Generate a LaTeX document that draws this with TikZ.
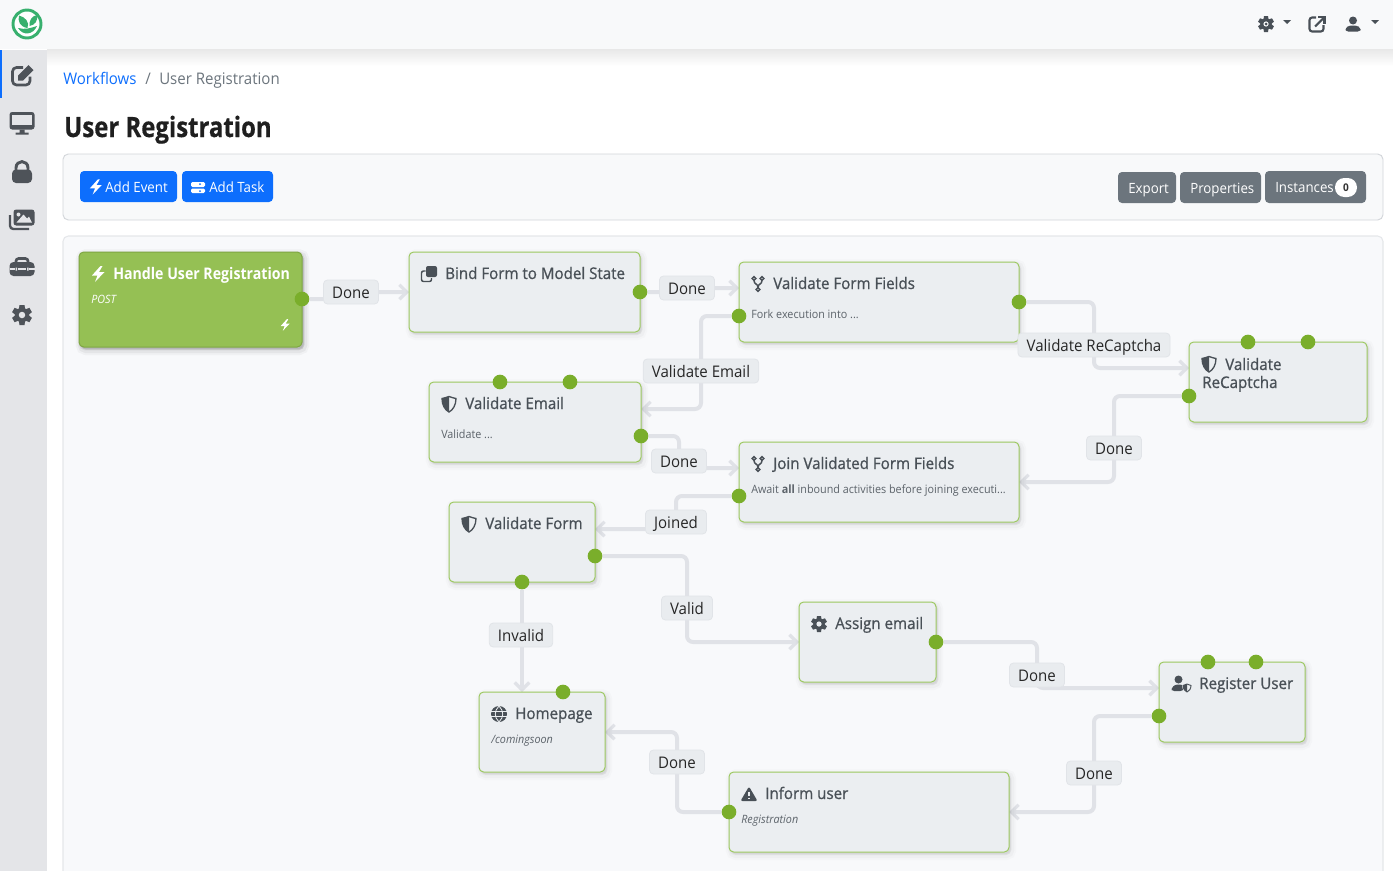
\documentclass[tikz,border=0pt]{standalone}
\usepackage{fontspec}
\setmainfont[FakeStretch=.94]{Open Sans}
\newfontfamily\midfont[FakeStretch=.945,FakeBold=.9]{Open Sans}
\newfontfamily\headfont[FakeStretch=.885]{Open Sans}
\newfontfamily\bigfont[FakeStretch=.855,FakeBold=.5]{Open Sans}
\usetikzlibrary{arrows.meta,backgrounds,fit,shadows}

\definecolor{navbg}{HTML}{F8F9FA}
\definecolor{sidebg}{HTML}{E4E5E8}
\definecolor{cardline}{HTML}{D3D6DA}
\definecolor{sheetbg}{HTML}{F8F9FB}
\definecolor{sheetline}{HTML}{E5E7EA}
\definecolor{boxgray}{HTML}{EBEEF1}
\definecolor{boxline}{HTML}{9CC860}
\definecolor{handlebg}{HTML}{95C054}
\definecolor{handleline}{HTML}{7EA643}
\definecolor{portgreen}{HTML}{7AAE2B}
\definecolor{wiregray}{HTML}{E0E2E7}
\definecolor{labelbg}{HTML}{E9ECEF}
\definecolor{labelline}{HTML}{E1E4E8}
\definecolor{bluebtn}{HTML}{0D6EFD}
\definecolor{graybtn}{HTML}{6C757D}
\definecolor{inkdark}{HTML}{495057}
\definecolor{inksub}{HTML}{5C636A}
\definecolor{inkside}{HTML}{4E5359}
\definecolor{logogreen}{HTML}{38B06E}

\tikzset{
    softshadow/.style={
        general shadow={shadow xshift=1.5pt,shadow yshift=-2pt,fill=black,opacity=.015,draw=black,line width=8pt},
        general shadow={shadow xshift=1.5pt,shadow yshift=-2pt,fill=black,opacity=.025,draw=black,line width=5pt},
        general shadow={shadow xshift=1pt,shadow yshift=-1.5pt,fill=black,opacity=.03,draw=black,line width=2pt}},
    flowbox/.style={draw=boxline,fill=boxgray,line width=.75pt,rounded corners=3.5pt,inner sep=0pt,softshadow},
    handlebox/.style={flowbox,draw=handleline,fill=handlebg},
    port/.style={circle,fill=portgreen,inner sep=0pt,minimum size=11pt},
    wire/.style={draw=wiregray,line width=3pt,rounded corners=4.5pt,-{Straight Barb[length=5.5pt,width=11pt,line width=2.4pt]}},
    edgelabel/.style={draw=labelline,fill=labelbg,line width=.6pt,rounded corners=3pt,inner xsep=6.5pt,inner ysep=0pt,
        minimum height=18pt,text=black!85,font=\fontsize{12}{14}\selectfont,text height=11pt,text depth=1.5pt},
    boxtitle/.style={anchor=base west,inner sep=0pt,text=inkdark,font=\fontsize{12}{14}\midfont},
    boxsub/.style={anchor=base west,inner sep=0pt,text=inksub,font=\fontsize{8.6}{10}\selectfont},
    boxpath/.style={boxsub,font=\fontsize{8.6}{10}\selectfont\itshape},
    btn/.style={inner sep=0pt,rounded corners=3pt},
    btntext/.style={anchor=base west,inner sep=0pt,text=white,font=\fontsize{10.6}{12}\selectfont},
    crumb/.style={anchor=base west,inner sep=0pt,font=\fontsize{12}{14}\selectfont},
    pics/bolticon/.style={code={
        \fill[#1] (2.5,-8)--(-6,1.5)--(-.5,1.5)--(-3,8)--(6.5,-2)--(1,-2)--(4.5,-8)--cycle;}},
    pics/forkicon/.style={code={
        \draw[#1,line width=1.1pt] (-4,-5.5) circle (1.8) (4,-5.5) circle (1.8) (0,5.5) circle (1.8);
        \draw[#1,line width=1.1pt] (-4,-3.7) .. controls (-4,1) and (0,-1) .. (0,3.7);
        \draw[#1,line width=1.1pt] (4,-3.7) .. controls (4,1) and (0,-1) .. (0,3.7);}},
    pics/shieldicon/.style={code={
        \draw[#1,line width=1pt] (0,-7.5) .. controls (2,-6.5) and (5,-6) .. (7,-5.5) .. controls (7,1) and (4,6) .. (0,8)
            .. controls (-4,6) and (-7,1) .. (-7,-5.5) .. controls (-5,-6) and (-2,-6.5) .. cycle;
        \fill[#1] (0,-7.5) -- (0,8) .. controls (-4,6) and (-7,1) .. (-7,-5.5) .. controls (-5,-6) and (-2,-6.5) .. cycle;}},
    pics/copyicon/.style={code={
        \fill[#1,rounded corners=1.5pt] (-3,-8) rectangle (8,3);
        \draw[#1,line width=1.1pt,rounded corners=1.5pt] (-3.5,-3) -- (-7.5,-3) -- (-7.5,7.5) -- (2.5,7.5) -- (2.5,4);}},
    pics/gearicon/.style 2 args={code={
        \fill[#1] (0,0) circle (5.8);
        \foreach \a in {0,60,...,300}
            \fill[#1,rotate=\a] (-2,-8)--(2,-8)--(2.6,-4)--(-2.6,-4)--cycle;
        \fill[#2] (0,0) circle (2.6);}},
    pics/globeicon/.style 2 args={code={
        \fill[#1] (0,0) circle (8);
        \draw[#2,line width=.6pt] (-8,-2.6)--(8,-2.6) (-8,2.6)--(8,2.6);
        \draw[#2,line width=.6pt] (0,-8) .. controls (-5,-3) and (-5,3) .. (0,8) .. controls (5,3) and (5,-3) .. cycle;}},
    pics/warnicon/.style 2 args={code={
        \fill[#1,rounded corners=1.5pt] (0,-7.5)--(8.5,7)--(-8.5,7)--cycle;
        \draw[#2,line width=1.1pt] (0,-2.5)--(0,2) (0,3.6)--(0,5);}},
    pics/usershieldicon/.style 2 args={code={
        \fill[#1] (-2.5,-4.5) circle (4);
        \fill[#1,rounded corners=2pt] (-9.5,7) -- (-9.5,4) -- (-6,.5) -- (1,.5) -- (4,3) -- (2,7) -- cycle;
        \fill[#2] (6,-1) -- (11,1) .. controls (11,5) and (9,8) .. (6,9) .. controls (3,8) and (1,5) .. (1,1) -- cycle;
        \draw[#1,line width=.7pt] (6,0) -- (10,1.5) .. controls (10,5) and (8,7) .. (6,8) .. controls (4,7) and (2,5) .. (2,1.5) -- cycle;
        \fill[#1] (6,0) -- (6,8) .. controls (4,7) and (2,5) .. (2,1.5) -- cycle;}},
    pics/editicon/.style={code={
        \draw[#1,line width=2pt,rounded corners=3pt] (1,-7.5) -- (-9.5,-7.5) -- (-9.5,10) -- (8,10) -- (8,1.5);
        \fill[#1] (-4,5.5)--(-4,.5)--(6.5,-10)--(11.5,-5)--(1,5.5)--cycle;}},
    pics/desktopicon/.style 2 args={code={
        \fill[#1,rounded corners=2pt] (-12.5,-11) rectangle (12.5,6.5);
        \fill[#2] (-10,-8.5) rectangle (10,2);
        \fill[#1] (-2.5,6.5) rectangle (2.5,10) (-6.5,9.5) rectangle (6.5,11.5);}},
    pics/lockicon/.style={code={
        \fill[#1,rounded corners=3pt] (-10,-2.5) rectangle (10,11);
        \draw[#1,line width=2.2pt] (-6,-2) -- (-6,-4) .. controls (-6,-12.5) and (6,-12.5) .. (6,-4) -- (6,-2);}},
    pics/imagesicon/.style 2 args={code={
        \draw[#1,line width=1.8pt,rounded corners=2.5pt] (-12,-4) -- (-12,10) -- (7,10);
        \fill[#1,rounded corners=2pt] (-8.5,-9.5) rectangle (12.5,6.5);
        \fill[#2] (-5.5,3.5)--(1.5,-4.5)--(5,-.5)--(7,-2.5)--(10,3.5)--cycle;
        \fill[#2] (-3.5,-4.5) circle (2);}},
    pics/toolboxicon/.style 2 args={code={
        \draw[#1,line width=2pt,rounded corners=2pt] (-6,-4) -- (-6,-8.5) -- (6,-8.5) -- (6,-4);
        \fill[#1,rounded corners=3pt] (-12.5,-5) rectangle (12.5,9);
        \draw[#2,line width=1.3pt] (-12.5,2) -- (-7,2) (-4,2) -- (4,2) (7,2) -- (12.5,2);
        \fill[#2] (-6.5,.5) rectangle (-5,3.5) (5,.5) rectangle (6.5,3.5);}},
    pics/linkicon/.style={code={
        \draw[#1,line width=1.6pt,rounded corners=2pt] (-1,-6.5) -- (-7.5,-6.5) -- (-7.5,7.5) -- (6.5,7.5) -- (6.5,1);
        \draw[#1,line width=1.6pt] (-2,2.5) -- (7,-6.5);
        \draw[#1,line width=1.6pt] (1,-7) -- (7.5,-7) -- (7.5,-.5);}},
    pics/usericon/.style={code={
        \fill[#1] (0,-3.5) circle (4);
        \fill[#1,rounded corners=2pt] (-7.5,7.5) -- (-7.5,4) -- (-4,1.5) -- (4,1.5) -- (7.5,4) -- (7.5,7.5) -- cycle;}},
    pics/careticon/.style={code={
        \fill[#1] (-4,-2) -- (4,-2) -- (0,2) -- cycle;}}
}

\begin{document}
\begin{tikzpicture}[x=.75pt,y=-.75pt]
    \useasboundingbox (0,0) rectangle (1393,871);

    \node[flowbox,handlebox,fit={(79,252)(302,347)}] (handlebox) {};
    \node[flowbox,fit={(409,252)(640,332)}] (bindbox) {};
    \node[flowbox,fit={(739,262)(1019,342)}] (fieldsbox) {};
    \node[flowbox,fit={(1189,342)(1367,422)}] (captchabox) {};
    \node[flowbox,fit={(429,382)(641,462)}] (emailbox) {};
    \node[flowbox,fit={(739,442)(1019,522)}] (joinbox) {};
    \node[flowbox,fit={(449,502)(595,582)}] (formbox) {};
    \node[flowbox,fit={(799,602)(936,682)}] (assignbox) {};
    \node[flowbox,fit={(1159,662)(1305,742)}] (registerbox) {};
    \node[flowbox,fit={(479,692)(605,772)}] (homebox) {};
    \node[flowbox,fit={(729,772)(1009,852)}] (informbox) {};

    \node[boxtitle,text=white,font=\fontsize{12}{14}\headfont\bfseries] (handletitle) at (113,279) {Handle User Registration};
    \node[boxpath,text=white] (handlesub) at (91,303) {POST};
    \node[boxtitle] (bindtitle) at (445,279) {Bind Form to Model State};
    \node[boxtitle] (fieldstitle) at (773,289) {Validate Form Fields};
    \node[boxsub] (fieldssub) at (751,318) {Fork execution into ...};
    \node[boxtitle] (captchatitle) at (1225,370) {Validate};
    \node[boxtitle] (captchatitleb) at (1202,388) {ReCaptcha};
    \node[boxtitle] (emailtitle) at (465,409) {Validate Email};
    \node[boxsub] (emailsub) at (441,438) {Validate ...};
    \node[boxtitle] (jointitle) at (773,469) {Join Validated Form Fields};
    \node[boxsub] (joinsub) at (751,493) {Await \textbf{all} inbound activities before joining executi...};
    \node[boxtitle] (formtitle) at (485,529) {Validate Form};
    \node[boxtitle] (assigntitle) at (835,629) {Assign email};
    \node[boxtitle] (registertitle) at (1199,689) {Register User};
    \node[boxtitle] (hometitle) at (515,719) {Homepage};
    \node[boxpath] (homesub) at (491,743) {/comingsoon};
    \node[boxtitle] (informtitle) at (765,799) {Inform user};
    \node[boxpath] (informsub) at (741,823) {Registration};

    \pic at (98,274) {bolticon=white};
    \pic[scale=.72] at (285,325) {bolticon=white};
    \pic at (429,274) {copyicon=inkdark};
    \pic at (758,284) {forkicon=inkdark};
    \pic at (1209,364) {shieldicon=inkdark};
    \pic at (449,404) {shieldicon=inkdark};
    \pic at (758,464) {forkicon=inkdark};
    \pic at (469,524) {shieldicon=inkdark};
    \pic at (819,624) {gearicon={inkdark}{boxgray}};
    \pic at (1181,684) {usershieldicon={inkdark}{boxgray}};
    \pic at (499,714) {globeicon={inkdark}{boxgray}};
    \pic at (749,794) {warnicon={inkdark}{boxgray}};

    \node[port] (handleout) at (302,299) {};
    \node[port] (bindout) at (640,292) {};
    \node[port] (fieldsout) at (1019,302) {};
    \node[port] (fieldsfork) at (739,316) {};
    \node[port] (captchatopa) at (1248,342) {};
    \node[port] (captchatopb) at (1308,342) {};
    \node[port] (captchaout) at (1189,396) {};
    \node[port] (emailtopa) at (500,382) {};
    \node[port] (emailtopb) at (570,382) {};
    \node[port] (emailout) at (641,436) {};
    \node[port] (joinout) at (739,496) {};
    \node[port] (formvalid) at (595,556) {};
    \node[port] (forminvalid) at (522,582) {};
    \node[port] (assignout) at (936,642) {};
    \node[port] (registertopa) at (1208,662) {};
    \node[port] (registertopb) at (1256,662) {};
    \node[port] (registerout) at (1159,716) {};
    \node[port] (hometop) at (563,692) {};
    \node[port] (informout) at (729,812) {};

    \coordinate (bindin) at (409,292);
    \coordinate (fieldsin) at (739,288);
    \coordinate (captchain) at (1189,368);
    \coordinate (emailin) at (641,409);
    \coordinate (joinin) at (739,468);
    \coordinate (joinback) at (1019,482);
    \coordinate (formin) at (595,529);
    \coordinate (assignin) at (799,642);
    \coordinate (registerin) at (1159,688);
    \coordinate (homein) at (522,692);
    \coordinate (homeback) at (605,732);
    \coordinate (informin) at (1009,812);

    \node[edgelabel] (donea) at (351,292) {Done};
    \node[edgelabel] (doneb) at (687,288) {Done};
    \node[edgelabel] (captchalabel) at (1094,345) {Validate ReCaptcha};
    \node[edgelabel] (emaillabel) at (701,371) {Validate Email};
    \node[edgelabel] (donec) at (679,461) {Done};
    \node[edgelabel] (doned) at (1114,448) {Done};
    \node[edgelabel] (joinedlabel) at (676,522) {Joined};
    \node[edgelabel] (validlabel) at (687,608) {Valid};
    \node[edgelabel] (invalidlabel) at (521,635) {Invalid};
    \node[edgelabel] (donee) at (1037,675) {Done};
    \node[edgelabel] (donef) at (1094,773) {Done};
    \node[edgelabel] (doneg) at (677,762) {Done};

    \node[btn,fill=bluebtn,fit={(80,171)(177,202)}] (eventbtn) {};
    \node[btn,fill=bluebtn,fit={(182,171)(273,202)}] (taskbtn) {};
    \node[btn,fill=graybtn,fit={(1118,172)(1176,203)}] (exportbtn) {};
    \node[btn,fill=graybtn,fit={(1180,172)(1261,203)}] (propsbtn) {};
    \node[btn,fill=graybtn,fit={(1265,171)(1366,203)}] (instbtn) {};
    \node[fill=white,inner sep=0pt,rounded corners=7pt,fit={(1335,178)(1357,197)}] (instbadge) {};
    \node[inner sep=0pt,font=\fontsize{8}{10}\bfseries,text=black!80] (instcount) at (1346,187.5) {0};
    \node[btntext] (eventtext) at (105,192) {Add Event};
    \node[btntext] (tasktext) at (209,192) {Add Task};
    \node[btntext] (exporttext) at (1128,193) {Export};
    \node[btntext] (propstext) at (1190,193) {Properties};
    \node[btntext] (insttext) at (1275,192) {Instances};
    \pic[scale=.95] at (95.5,187) {bolticon=white};
    \fill[white,rounded corners=1pt] (191,182) rectangle (205,187) (191,188.5) rectangle (205,193);
    \fill[bluebtn] (200,184) circle (1) (200,191) circle (1);

    \node[crumb,text=bluebtn] (crumbflows) at (63,84) {Workflows};
    \node[crumb,text=graybtn] (crumbsep) at (145,84) {/};
    \node[crumb,text=graybtn] (crumbpage) at (159,84) {User Registration};
    \node[anchor=base west,inner sep=0pt,text=black!88,font=\fontsize{21}{24}\bigfont\bfseries] (pagetitle) at (64,137) {User Registration};

    \pic at (22,75) {editicon=inkside};
    \pic at (22,123) {desktopicon={inkside}{sidebg}};
    \pic at (22,172) {lockicon=inkside};
    \pic at (22,219) {imagesicon={inkside}{sidebg}};
    \pic at (22,267) {toolboxicon={inkside}{sidebg}};
    \pic[scale=1.25] at (22,315) {gearicon={inkside}{sidebg}};

    \pic at (1266,24) {gearicon={inkdark}{navbg}};
    \fill[inkdark] (1266,24) circle (1.5);
    \pic at (1287,22) {careticon=inkdark};
    \pic at (1317,24) {linkicon=inkdark};
    \pic at (1353,24) {usericon=inkdark};
    \pic at (1375,22) {careticon=inkdark};

    \draw[logogreen,line width=2.2pt,fill=white] (27,24) circle (14);
    \fill[logogreen] (18,28) .. controls (23,36) and (33,35) .. (37,26) .. controls (31,28) and (25,30) .. cycle;
    \fill[logogreen] (27.5,28) .. controls (20,27) and (17.5,21) .. (19,15.5) .. controls (25,17) and (30,22) .. cycle;
    \fill[logogreen] (29.5,26) .. controls (29,20) and (32,16) .. (37,15) .. controls (38,21) and (35,25) .. cycle;

    \begin{scope}[on background layer]
        \fill[white] (0,0) rectangle (1393,871);
        \shade[top color=black!9,bottom color=white] (47,49) rectangle (1393,66);
        \fill[navbg] (0,0) rectangle (1393,49);
        \fill[sidebg] (0,50) rectangle (47,871);
        \fill[bluebtn] (0,50) rectangle (2,98);
        \draw[cardline,fill=navbg,line width=.7pt,rounded corners=4pt] (63,154) rectangle (1383,220);
        \path[fill=sheetbg] (63,871) [rounded corners=4pt] |- (1383,236) [sharp corners] -- (1383,871) -- cycle;
        \draw[sheetline,line width=.8pt,rounded corners=4pt] (63,871) |- (1383,236) -- (1383,871);

        \draw[wire] (handleout) -| (donea.center) -- (bindin);
        \draw[wire] (bindout) -| (doneb.center) -- (fieldsin);
        \draw[wire] (fieldsout) -| (captchalabel.center) |- (captchain);
        \draw[wire] (fieldsfork) -| (emaillabel.center) |- (emailin);
        \draw[wire] (emailout) -| (donec.center) |- (joinin);
        \draw[wire] (captchaout) -| (doned.center) |- (joinback);
        \draw[wire] (joinout) -| (joinedlabel.center) |- (formin);
        \draw[wire] (formvalid) -| (validlabel.center) |- (assignin);
        \draw[wire] (forminvalid) -- (homein);
        \draw[wire] (assignout) -| (donee.center) |- (registerin);
        \draw[wire] (registerout) -| (donef.center) |- (informin);
        \draw[wire] (informout) -| (doneg.center) |- (homeback);
    \end{scope}
\end{tikzpicture}
\end{document}
